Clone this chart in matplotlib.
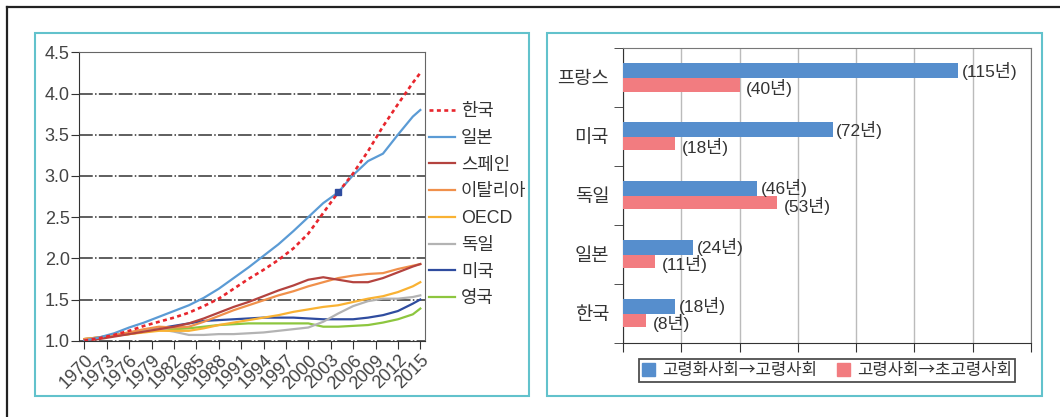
import numpy as np
import matplotlib.pyplot as plt
from matplotlib.lines import Line2D
from matplotlib.patches import Rectangle, Patch

plt.rcParams["font.family"] = ["Liberation Sans Narrow", "Liberation Sans", "Noto Sans CJK KR"]

# 노인부양비 추이 (1970=1.0)
years = [1970, 1972, 1974, 1976, 1978, 1980, 1982, 1984, 1986, 1988, 1990, 1992,
         1994, 1996, 1998, 2000, 2002, 2004, 2006, 2008, 2010, 2012, 2014, 2015]
korea = [1.00, 1.03, 1.07, 1.12, 1.18, 1.23, 1.28, 1.34, 1.42, 1.51, 1.63, 1.75,
         1.86, 1.98, 2.12, 2.30, 2.55, 2.80, 3.03, 3.30, 3.60, 3.87, 4.13, 4.25]
japan = [1.00, 1.04, 1.09, 1.16, 1.22, 1.29, 1.36, 1.43, 1.52, 1.63, 1.76, 1.89,
         2.03, 2.17, 2.33, 2.50, 2.67, 2.80, 3.01, 3.18, 3.27, 3.50, 3.72, 3.80]
spain = [1.00, 1.02, 1.05, 1.08, 1.11, 1.14, 1.17, 1.21, 1.27, 1.34, 1.41, 1.47,
         1.54, 1.61, 1.67, 1.74, 1.77, 1.74, 1.71, 1.71, 1.76, 1.83, 1.90, 1.93]
italy = [1.02, 1.04, 1.07, 1.10, 1.14, 1.17, 1.16, 1.17, 1.23, 1.30, 1.37, 1.43,
         1.49, 1.55, 1.60, 1.66, 1.71, 1.76, 1.79, 1.81, 1.82, 1.87, 1.91, 1.93]
oecd = [1.02, 1.04, 1.06, 1.08, 1.10, 1.12, 1.12, 1.12, 1.15, 1.19, 1.22, 1.25,
        1.28, 1.31, 1.35, 1.38, 1.41, 1.43, 1.47, 1.51, 1.54, 1.59, 1.66, 1.71]
germany = [1.02, 1.04, 1.07, 1.10, 1.13, 1.14, 1.11, 1.07, 1.07, 1.08, 1.08, 1.09,
           1.10, 1.12, 1.14, 1.16, 1.23, 1.33, 1.42, 1.48, 1.51, 1.51, 1.53, 1.55]
usa = [1.01, 1.03, 1.06, 1.09, 1.12, 1.15, 1.18, 1.21, 1.24, 1.25, 1.26, 1.27,
       1.28, 1.28, 1.28, 1.27, 1.26, 1.26, 1.26, 1.28, 1.31, 1.36, 1.45, 1.50]
uk = [1.02, 1.04, 1.06, 1.08, 1.11, 1.13, 1.14, 1.15, 1.17, 1.19, 1.20, 1.21,
      1.21, 1.21, 1.21, 1.21, 1.17, 1.17, 1.18, 1.19, 1.22, 1.26, 1.32, 1.39]
cross_year, cross_value = 2004, 2.80

# 고령화 속도 (년)
countries = ["프랑스", "미국", "독일", "일본", "한국"]
aging_to_aged = [115, 72, 46, 24, 18]
aged_to_super = [40, 18, 53, 11, 8]

W, H = 1060, 417
fig = plt.figure(figsize=(W / 100, H / 100), dpi=100)

# 바깥 테두리와 패널 상자
fig.add_artist(Line2D([7 / W, 7 / W], [0, 1 - 7 / H], color="#222222", lw=1.6))
fig.add_artist(Line2D([7 / W, 1], [1 - 7 / H, 1 - 7 / H], color="#222222", lw=1.6))
for x0, x1 in [(35, 529), (547, 1042)]:
    fig.add_artist(Rectangle((x0 / W, 1 - 396 / H), (x1 - x0) / W, 363 / H,
                             transform=fig.transFigure, fill=False,
                             ec="#62C2CC", lw=1.5))

# 왼쪽: 선 그래프
ax1 = fig.add_axes([79.4 / W, 1 - 340.7 / H, 345.9 / W, 288.4 / H])
series = [
    ("한국", korea, "#E8262D", (0, (1.5, 1.3)), 1.9),
    ("일본", japan, "#5B9BD5", "-", 1.6),
    ("스페인", spain, "#B4433F", "-", 1.6),
    ("이탈리아", italy, "#F0904B", "-", 1.6),
    ("OECD", oecd, "#F9B233", "-", 1.6),
    ("독일", germany, "#B3B3B3", "-", 1.6),
    ("미국", usa, "#2F4C9F", "-", 1.6),
    ("영국", uk, "#8DC63F", "-", 1.6),
]
handles = []
for name, vals, col, ls, lw in reversed(series):
    ax1.plot(years, vals, color=col, ls=ls, lw=lw)
for name, vals, col, ls, lw in series:
    handles.append(Line2D([], [], color=col, ls=ls, lw=lw, label=name))
ax1.plot([cross_year], [cross_value], "s", color="#2F4C9F", ms=5)

ax1.set_xlim(1969.34, 2015.67)
ax1.set_ylim(1.0, 4.5)
ax1.set_yticks(np.arange(1.0, 4.51, 0.5))
ax1.set_yticklabels([f"{v:.1f}" for v in np.arange(1.0, 4.51, 0.5)])
ax1.set_xticks(range(1970, 2016, 3))
ax1.set_xticklabels([str(y) for y in range(1970, 2016, 3)], rotation=45,
                    ha="right", rotation_mode="anchor")
ax1.yaxis.grid(True, ls=(0, (9, 1.5, 1, 1.5)), color="#333333", lw=1.1)
ax1.tick_params(axis="y", direction="out", length=6, pad=1, labelsize=13,
                colors="#333333", labelcolor="#444444")
ax1.tick_params(axis="x", direction="out", length=6, pad=2, labelsize=13,
                colors="#333333", labelcolor="#444444")
for side in ["left", "bottom"]:
    ax1.spines[side].set_color("#333333")
for side in ["top", "right"]:
    ax1.spines[side].set_color("#666666")

fig.legend(handles=handles, loc="upper left", bbox_to_anchor=(429 / W, 1 - 103 / H),
           frameon=False, fontsize=12.8, handlelength=1.45, handletextpad=0.35,
           labelspacing=0.55, borderpad=0, borderaxespad=0, labelcolor="#333333")

# 오른쪽: 막대 그래프
ax2 = fig.add_axes([623 / W, 1 - 342.7 / H, 408 / W, 294.4 / H])
pos = np.arange(len(countries))
ax2.barh(pos - 0.12, aging_to_aged, height=0.25, color="#568ECD", zorder=3)
ax2.barh(pos + 0.12, aged_to_super, height=0.23, color="#F27C80", zorder=3)
for p, v in zip(pos, aging_to_aged):
    ax2.text(v + 1.2, p - 0.12, f"({v}년)", va="center", ha="left",
             fontsize=12.5, color="#333333", zorder=4)
for p, v in zip(pos, aged_to_super):
    ax2.text(v + 2.3, p + 0.17, f"({v}년)", va="center", ha="left",
             fontsize=12.5, color="#333333", zorder=4)

ax2.set_xlim(0, 140)
ax2.set_ylim(4.5, -0.5)
ax2.set_xticks(range(0, 141, 20))
ax2.tick_params(axis="x", direction="out", length=6.5, labelbottom=False,
                colors="#333333")
ax2.xaxis.grid(True, color="#BBBBBB", lw=1)
ax2.set_yticks(pos)
ax2.set_yticklabels(countries)
ax2.tick_params(axis="y", which="major", length=0, pad=10, labelsize=13.5,
                labelcolor="#333333")
ax2.set_yticks(np.arange(-0.5, 5, 1), minor=True)
ax2.tick_params(axis="y", which="minor", direction="out", length=6.5,
                colors="#333333")
for side in ["left", "bottom"]:
    ax2.spines[side].set_color("#333333")
for side in ["top", "right"]:
    ax2.spines[side].set_color("#777777")

leg = fig.legend(handles=[Patch(color="#568ECD", label="고령화사회→고령사회"),
                          Patch(color="#F27C80", label="고령사회→초고령사회")],
                 loc="center", bbox_to_anchor=(827 / W, 1 - 370.5 / H), ncol=2,
                 prop={"family": ["Noto Sans CJK KR"], "size": 12},
                 frameon=True, fancybox=False, edgecolor="#222222",
                 handlelength=0.8, handleheight=0.8, handletextpad=0.4,
                 columnspacing=1.2, borderpad=0.2, labelcolor="#333333")
leg.get_frame().set_linewidth(1.3)

fig.savefig("out.png", dpi=100)
